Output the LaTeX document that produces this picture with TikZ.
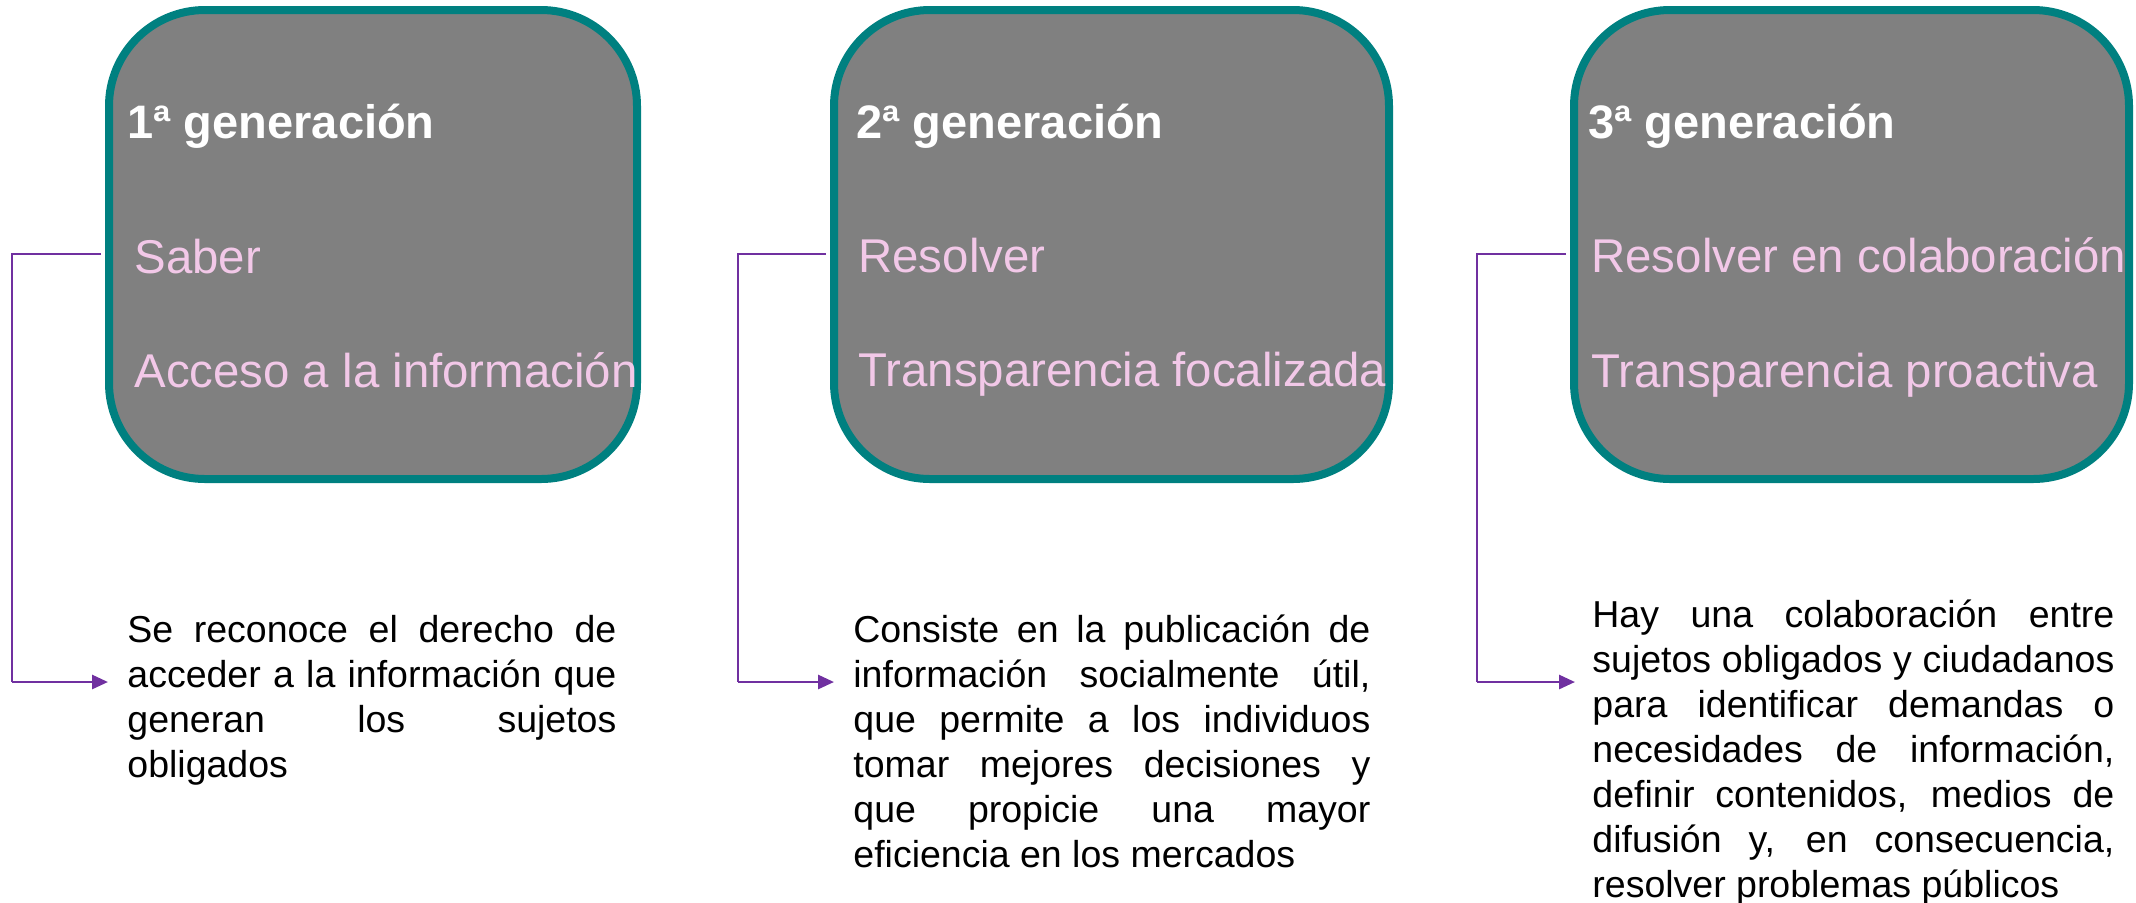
\documentclass[tikz,border=0pt]{standalone}
\usepackage{fontspec}
\setmainfont{Liberation Sans}
\usetikzlibrary{arrows.meta}
\definecolor{boxfill}{RGB}{128,128,128}
\definecolor{boxline}{RGB}{0,128,128}
\definecolor{pinktxt}{RGB}{242,200,232}
\definecolor{conncol}{RGB}{112,48,160}
\begin{document}
\begin{tikzpicture}[x=0.5pt,y=-0.5pt,
  genbox/.style={draw=boxline, fill=boxfill, line width=4pt, rounded corners=48pt,
    minimum height=234.5pt, inner sep=0pt, anchor=center},
  gentitle/.style={anchor=base west, inner sep=0pt, text=white,
    font=\fontsize{23.5}{28}\selectfont\bfseries},
  genitem/.style={anchor=base west, inner sep=0pt, text=pinktxt,
    font=\fontsize{23.7}{28}\selectfont},
  desc/.style={anchor=base west, inner sep=0pt, align=justify, text=black,
    font=\fontsize{18.75}{22.5}\selectfont},
  conn/.style={draw=conncol, line width=0.8pt},
  connarrow/.style={draw=conncol, line width=1.4pt,
    -{Triangle[length=8pt,width=7pt]}}]
\useasboundingbox (0,0) rectangle (2136,902);

% boxes
\node[genbox, minimum width=264pt] (b1) at (373,244.5) {};
\node[genbox, minimum width=277.5pt] (b2) at (1111.5,244.5) {};
\node[genbox, minimum width=277.5pt] (b3) at (1851.5,244.5) {};

% box texts
\node[gentitle] (t1) at (127,138) {1ª generación};
\node[genitem] (s1) at (134,273) {Saber};
\node[genitem] (a1) at (134,387) {Acceso a la información};

\node[gentitle] (t2) at (856,138) {2ª generación};
\node[genitem] (s2) at (858,272) {Resolver};
\node[genitem] (a2) at (858,386) {Transparencia focalizada};

\node[gentitle] (t3) at (1588,138) {3ª generación};
\node[genitem] (s3) at (1591,272) {Resolver en colaboración};
\node[genitem] (a3) at (1591,387) {Transparencia proactiva};

% descriptions
\node[desc, text width=244.5pt] (d1) at (127,642) {\hyphenpenalty=10000
Se reconoce el derecho de\linebreak acceder a la información que\linebreak generan los sujetos\linebreak obligados};
\node[desc, text width=258.5pt] (d2) at (853,642) {\hyphenpenalty=10000
Consiste en la publicación de\linebreak información socialmente útil,\linebreak que permite a los individuos\linebreak tomar mejores decisiones y\linebreak que propicie una mayor\linebreak eficiencia en los mercados};
\node[desc, text width=261pt] (d3) at (1592,627) {\hyphenpenalty=10000
Hay una colaboración entre\linebreak sujetos obligados y ciudadanos\linebreak para identificar demandas o\linebreak necesidades de información,\linebreak definir contenidos, medios de\linebreak difusión y, en consecuencia,\linebreak resolver problemas públicos};

% connector coordinates
\coordinate (k1) at (12,254);   \coordinate (m1) at (12,682);   \coordinate (e1) at (108,682);
\coordinate (k2) at (738,254);  \coordinate (m2) at (738,682);  \coordinate (e2) at (834,682);
\coordinate (k3) at (1477,254); \coordinate (m3) at (1477,682); \coordinate (e3) at (1575,682);

% connectors
\draw[conn, shorten <=2pt] (b1.west |- k1) -- (k1) -- (m1);
\draw[connarrow] (m1) -- (e1);
\draw[conn, shorten <=2pt] (b2.west |- k2) -- (k2) -- (m2);
\draw[connarrow] (m2) -- (e2);
\draw[conn, shorten <=2pt] (b3.west |- k3) -- (k3) -- (m3);
\draw[connarrow] (m3) -- (e3);
\end{tikzpicture}
\end{document}
